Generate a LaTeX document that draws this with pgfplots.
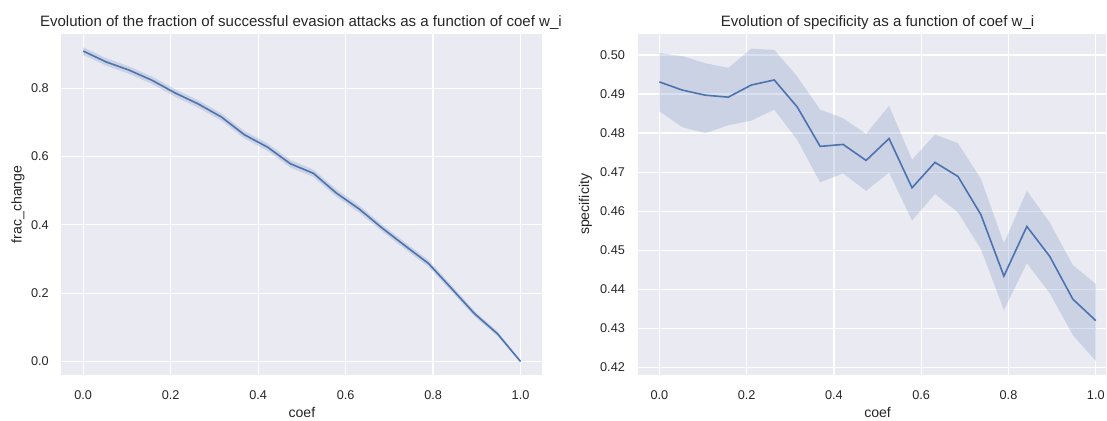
\documentclass[border=0pt]{standalone}
\usepackage{fontspec}
\setmainfont{Liberation Sans}
\usepackage{pgfplots}
\pgfplotsset{compat=1.18}
\usepackage{pgfplotstable}
\usepgfplotslibrary{fillbetween}
\definecolor{sbbg}{HTML}{EAEAF2}
\definecolor{sbblue}{HTML}{4C72B0}
\definecolor{sbtext}{HTML}{262626}

\pgfplotstableread{
x        m      lo     hi
0        0.909  0.898  0.920
0.052632 0.877  0.866  0.888
0.105263 0.853  0.842  0.864
0.157895 0.823  0.812  0.834
0.210526 0.786  0.775  0.797
0.263158 0.754  0.743  0.765
0.315789 0.716  0.705  0.727
0.368421 0.664  0.653  0.675
0.421053 0.628  0.617  0.639
0.473684 0.579  0.568  0.590
0.526316 0.551  0.540  0.562
0.578947 0.493  0.482  0.504
0.631579 0.446  0.435  0.457
0.684211 0.390  0.380  0.400
0.736842 0.338  0.328  0.348
0.789474 0.287  0.277  0.297
0.842105 0.214  0.205  0.223
0.894737 0.140  0.132  0.148
0.947368 0.081  0.074  0.088
1        0.000  -0.001 0.001
}\fracdata

\pgfplotstableread{
x        m       lo      hi
0        0.4931  0.4856  0.5005
0.052632 0.4910  0.4815  0.4997
0.105263 0.4897  0.4800  0.4979
0.157895 0.4892  0.4820  0.4967
0.210526 0.4923  0.4832  0.5016
0.263158 0.4936  0.4860  0.5013
0.315789 0.4867  0.4783  0.4945
0.368421 0.4766  0.4674  0.4860
0.421053 0.4771  0.4697  0.4838
0.473684 0.4730  0.4652  0.4798
0.526316 0.4786  0.4699  0.4870
0.578947 0.4660  0.4576  0.4732
0.631579 0.4725  0.4644  0.4796
0.684211 0.4689  0.4597  0.4774
0.736842 0.4591  0.4503  0.4683
0.789474 0.4434  0.4347  0.4518
0.842105 0.4561  0.4467  0.4652
0.894737 0.4484  0.4390  0.4571
0.947368 0.4375  0.4283  0.4462
1        0.4320  0.4217  0.4414
}\specdata

\pgfplotsset{
  sbstyle/.style={
    scale only axis,
    axis background/.style={fill=sbbg},
    axis line style={draw=none},
    grid=major,
    major grid style={white, line width=1.2pt},
    tick style={draw=none},
    xtick={0,0.2,0.4,0.6,0.8,1.0},
    /pgf/number format/assume math mode=true,
    xticklabel style={/pgf/number format/.cd, fixed, fixed zerofill, precision=1, /tikz/.cd,
      font=\fontsize{12.7}{14}\selectfont, text=sbtext, inner sep=0pt, yshift=-15.4pt},
    yticklabel style={font=\fontsize{12.7}{14}\selectfont, text=sbtext, inner sep=0pt, xshift=-12.5pt},
    height=341pt,
  }
}

\begin{document}
\begin{tikzpicture}[x=1pt,y=1pt]
\path (0,0) rectangle (1107,419);
\begin{axis}[sbstyle,
  at={(61.4pt,44pt)}, anchor=south west,
  width=481.3pt,
  xmin=-0.05, xmax=1.05,
  ymin=-0.039, ymax=0.959,
  ytick={0,0.2,0.4,0.6,0.8},
  yticklabel style={/pgf/number format/.cd, fixed, fixed zerofill, precision=1},
  every axis title/.style={at={(axis description cs:0.498,1.0214)}, anchor=base, font=\fontsize{15.05}{17}\selectfont, text=sbtext},
  every axis x label/.style={at={(axis description cs:0.5,-0.124)}, anchor=base, font=\fontsize{14.1}{16}\selectfont, text=sbtext},
  every axis y label/.style={at={(axis description cs:-0.0825,0.5)}, rotate=90, anchor=base, font=\fontsize{14.1}{16}\selectfont, text=sbtext},
  title={Evolution of the fraction of successful evasion attacks as a function of coef w\_i},
  xlabel={coef}, ylabel={frac\_change},
]
\addplot[draw=none, name path=fu] table[x=x,y=hi] {\fracdata};
\addplot[draw=none, name path=fl] table[x=x,y=lo] {\fracdata};
\addplot[sbblue, fill opacity=0.2, draw opacity=0.2, line width=0.5pt] fill between[of=fu and fl];
\addplot[sbblue, line width=1.6pt] table[x=x,y=m] {\fracdata};
\end{axis}
\begin{axis}[sbstyle,
  at={(637.9pt,44pt)}, anchor=south west,
  width=469.1pt,
  xmin=-0.05, xmax=1.0244,
  ymin=0.41813, ymax=0.50537,
  ytick={0.42,0.43,0.44,0.45,0.46,0.47,0.48,0.49,0.50},
  yticklabel style={/pgf/number format/.cd, fixed, fixed zerofill, precision=2},
  every axis y label/.style={at={(axis description cs:-0.1032,0.5)}, rotate=90, anchor=base, font=\fontsize{14.1}{16}\selectfont, text=sbtext},
  every axis title/.style={at={(axis description cs:0.5119,1.0214)}, anchor=base, font=\fontsize{15.05}{17}\selectfont, text=sbtext},
  every axis x label/.style={at={(axis description cs:0.5119,-0.124)}, anchor=base, font=\fontsize{14.1}{16}\selectfont, text=sbtext},
  title={Evolution of specificity as a function of coef w\_i},
  xlabel={coef}, ylabel={specificity},
]
\addplot[draw=none, name path=su] table[x=x,y=hi] {\specdata};
\addplot[draw=none, name path=sl] table[x=x,y=lo] {\specdata};
\addplot[sbblue, fill opacity=0.2, draw opacity=0.2, line width=0.5pt] fill between[of=su and sl];
\addplot[sbblue, line width=1.6pt] table[x=x,y=m] {\specdata};
\end{axis}
\end{tikzpicture}
\end{document}
